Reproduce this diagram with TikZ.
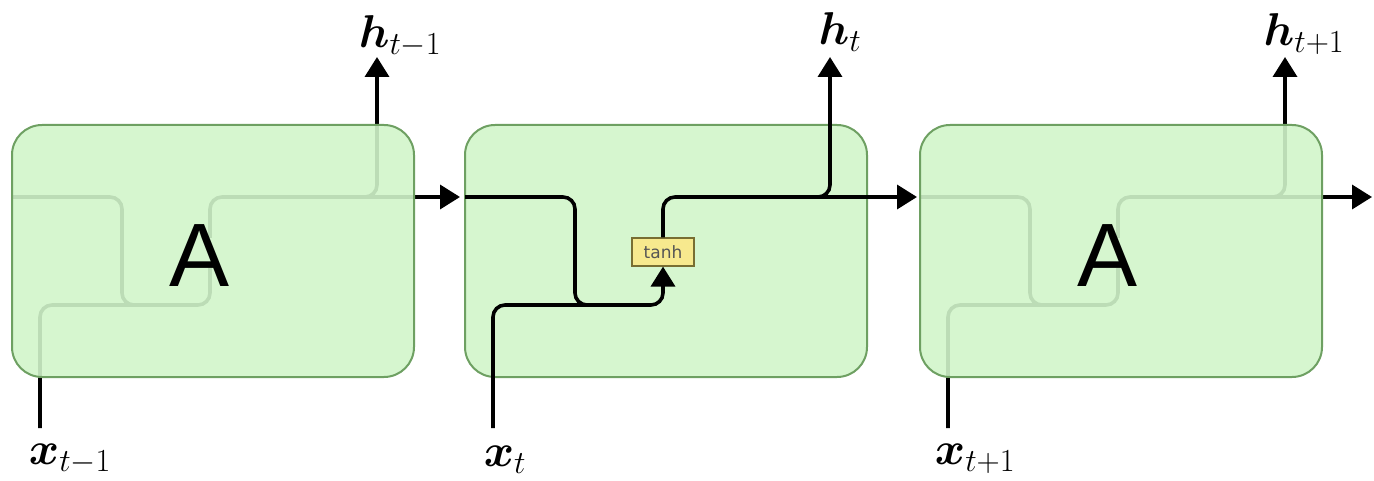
\RequirePackage{fix-cm}
\documentclass[tikz,border=0pt]{standalone}
\usepackage{bm}
\usepackage{fontspec}
\newfontfamily\boxfont{Liberation Sans}
\newfontfamily\tanhfont{DejaVu Sans}
\usetikzlibrary{arrows.meta}
\definecolor{cellfill}{RGB}{209,245,202}
\definecolor{cellborder}{RGB}{110,160,98}
\definecolor{tanhfill}{RGB}{247,233,142}
\definecolor{tanhborder}{RGB}{120,110,50}
\definecolor{tanhtext}{RGB}{85,85,85}
\begin{document}
\begin{tikzpicture}[x=1pt,y=-1pt,
  cell/.style={draw=cellborder, line width=2pt, fill=cellfill, fill opacity=0.9, draw opacity=1,
    rounded corners=30pt, minimum width=402pt, minimum height=252pt, inner sep=0pt},
  wire/.style={line width=3.6pt, rounded corners=12pt, line cap=butt},
  arr/.style={wire, -{Triangle[length=20pt,width=24pt]}},
  lbl/.style={font=\fontsize{46}{50}\selectfont, inner sep=0pt},
  bigA/.style={font=\boxfont\fontsize{90}{90}\selectfont, inner sep=0pt},
  gate/.style={draw=tanhborder, fill=tanhfill, line width=1.2pt, minimum width=62pt,
    minimum height=28pt, inner sep=0pt, font=\tanhfont\fontsize{17}{18}\selectfont, text=tanhtext},
]
\useasboundingbox (0,0) rectangle (1374,481);

% ---------- cell 1 (wires behind the cell) ----------
\coordinate (in1) at (12,197);
\coordinate (x1s) at (40,428);
\coordinate (g1b) at (210,268);
\coordinate (g1t) at (210,238);
\coordinate (h1e) at (377,57);
\coordinate (r1) at (460,197);
\draw[wire] (in1) -- (122,197) -- (122,305) -- (210,305) -- (g1b);
\draw[wire] (x1s) -- (40,305) -- (145,305);
\draw[arr] (g1t) -- (210,197) -- (r1);
\draw[arr] (340,197) -- (377,197) -- (h1e);
\node[cell] (c1) at (213,251) {};
\node[bigA] (A1) at (200,256) {A};

% ---------- cell 2 (wires on top) ----------
\node[cell] (c2) at (666,251) {};
\node[gate] (tanh) at (663,252) {tanh};
\coordinate (in2) at (465,197);
\coordinate (x2s) at (493,428);
\coordinate (h2e) at (830,57);
\coordinate (r2) at (917,197);
\draw[arr] (in2) -- (575,197) -- (575,305) -- (663,305) -- (tanh.south);
\draw[wire] (x2s) -- (493,305) -- (598,305);
\draw[arr] (tanh.north) -- (663,197) -- (r2);
\draw[arr] (800,197) -- (830,197) -- (h2e);

% ---------- cell 3 (wires behind the cell) ----------
\coordinate (in3) at (920,197);
\coordinate (x3s) at (948,428);
\coordinate (g3b) at (1118,268);
\coordinate (g3t) at (1118,238);
\coordinate (h3e) at (1285,57);
\coordinate (r3) at (1372,197);
\draw[wire] (in3) -- (1030,197) -- (1030,305) -- (1118,305) -- (g3b);
\draw[wire] (x3s) -- (948,305) -- (1053,305);
\draw[arr] (g3t) -- (1118,197) -- (r3);
\draw[arr] (1250,197) -- (1285,197) -- (h3e);
\node[cell] (c3) at (1121,251) {};
\node[bigA] (A3) at (1108,256) {A};

% ---------- labels ----------
\node[lbl] (lh1) at (400,36) {$\bm{h}_{t-1}$};
\node[lbl] (lh2) at (840,32) {$\bm{h}_{t}$};
\node[lbl] (lh3) at (1304,34) {$\bm{h}_{t+1}$};
\node[lbl] (lx1) at (70,459) {$\bm{x}_{t-1}$};
\node[lbl] (lx2) at (505,460) {$\bm{x}_{t}$};
\node[lbl] (lx3) at (975,459) {$\bm{x}_{t+1}$};
\end{tikzpicture}
\end{document}
